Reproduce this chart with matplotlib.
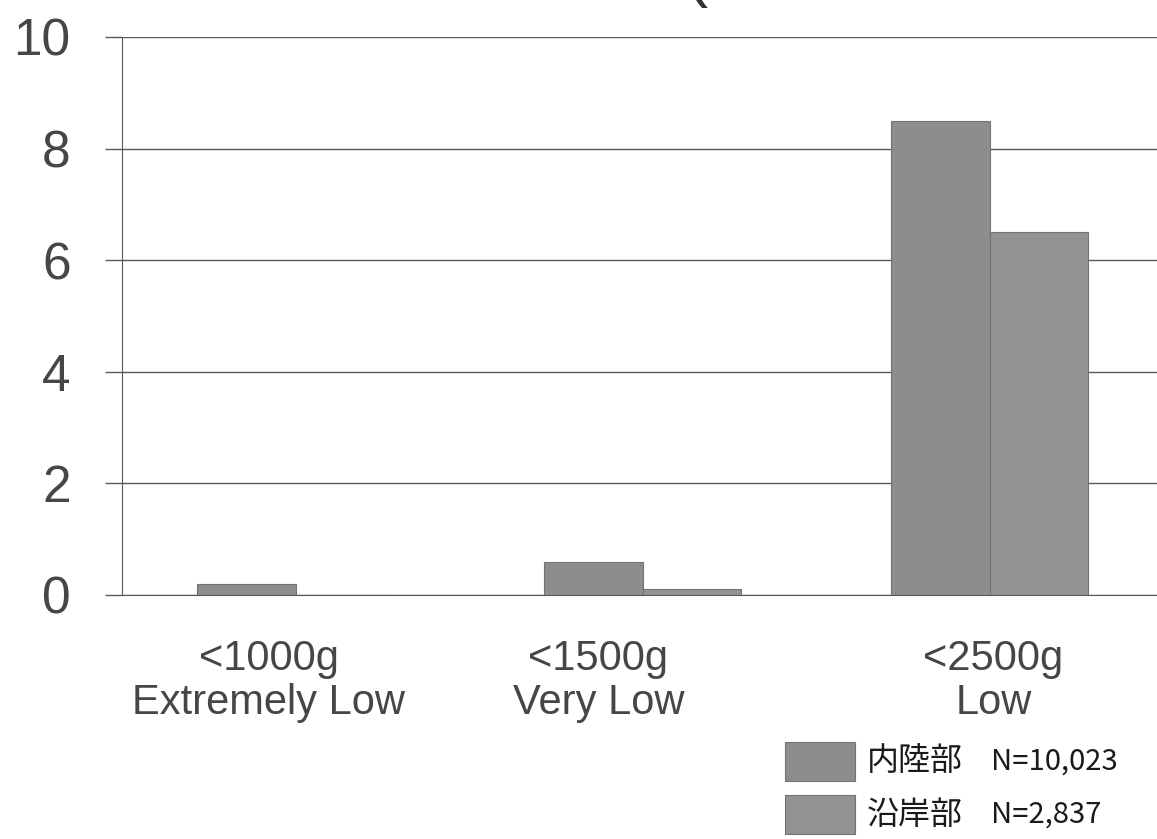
import numpy as np
import matplotlib
matplotlib.use('Agg')
import matplotlib.pyplot as plt
import matplotlib.transforms as mtransforms
from matplotlib.patches import Rectangle

# data
categories = ['<1000g\nExtremely Low', '<1500g\nVery Low', '<2500g\nLow']
inland = [0.2, 0.6, 8.5]      # 内陸部
coastal = [0.0, 0.1, 6.5]     # 沿岸部
series_names = ['内陸部', '沿岸部']
series_n = ['N=10,023', 'N=2,837']
yticks = [0, 2, 4, 6, 8, 10]

plt.rcParams['font.family'] = ['Liberation Sans', 'DejaVu Sans']
text_col = '#464646'
grid_col = '#5a5a5a'
bar_cols = ['#8d8d8d', '#939393']

W, H = 1157, 839
fig = plt.figure(figsize=(W / 100, H / 100), dpi=100)
fig.patch.set_facecolor('white')

left, right, top, bottom = 122, 1163, 37, 595
ax = fig.add_axes([left / W, 1 - bottom / H, (right - left) / W, (bottom - top) / H])

x = np.arange(len(categories)) + 0.5
bw = 0.285
b1 = ax.bar(x - bw / 2, inland, bw, color=bar_cols[0], edgecolor='#737373', linewidth=0.8, zorder=3)
b2 = ax.bar(x + bw / 2, coastal, bw, color=bar_cols[1], edgecolor='#737373', linewidth=0.8, zorder=3)

ax.set_xlim(0, 3)
ax.set_ylim(0, 10)
ax.set_yticks(yticks)
ax.set_xticks(x)
ax.set_xticklabels(categories, fontsize=30, color=text_col, linespacing=1.12)
ax.tick_params(axis='x', length=0, pad=32)
ax.tick_params(axis='y', length=12, width=1, color=grid_col, labelsize=37,
               labelcolor=text_col, pad=25)

# the slide had the first two labels nudged left of their groups
shifts = [-27, -44, 4]
for lab, dx in zip(ax.get_xticklabels(), shifts):
    lab.set_transform(lab.get_transform() + mtransforms.ScaledTranslation(dx / 100, 0, fig.dpi_scale_trans))

for s in ['top', 'right']:
    ax.spines[s].set_visible(False)
ax.spines['left'].set_color(grid_col)
ax.spines['bottom'].set_color(grid_col)
ax.spines['bottom'].set_zorder(4)
ax.grid(axis='y', color=grid_col, linewidth=1, zorder=1)
ax.set_axisbelow(True)

# clipped tail of the title bracket at the very top
fig.text(697 / W, 1 - 8 / H, '(', fontsize=48, color='#333333', ha='center', va='bottom')

# legend, bottom right
cjk = ['Noto Sans CJK JP', 'DejaVu Sans']
for i, (name, n) in enumerate(zip(series_names, series_n)):
    y0 = 742 + i * 53
    fig.add_artist(Rectangle((785 / W, 1 - (y0 + 39) / H), 70 / W, 39 / H,
                             transform=fig.transFigure, facecolor=bar_cols[i],
                             edgecolor='#737373', linewidth=0.8))
    yc = 1 - (y0 + 19.5) / H
    fig.text(867 / W, yc, name, fontsize=23, family=cjk, color='#1a1a1a', va='center')
    fig.text(991 / W, yc, n, fontsize=21, family=cjk, color='#1a1a1a', va='center')

fig.savefig('out.png', dpi=100)
